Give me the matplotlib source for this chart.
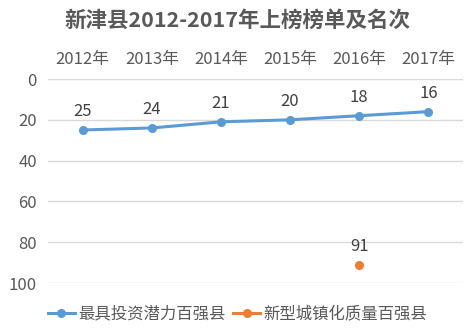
import matplotlib
matplotlib.use("Agg")
import matplotlib.pyplot as plt
import numpy as np

plt.rcParams['font.family'] = ['Noto Sans CJK SC', 'DejaVu Sans']

years = ["2012年", "2013年", "2014年", "2015年", "2016年", "2017年"]
invest_rank = [25, 24, 21, 20, 18, 16]
urban_rank = [None, None, None, None, 91, None]
yticks = [0, 20, 40, 60, 80, 100]

BLUE = "#5b9bd5"
ORANGE = "#ed7d31"
GRAY = "#595959"

fig = plt.figure(figsize=(4.75, 3.36), dpi=100)
ax = fig.add_axes([48 / 475, 1 - 283 / 336, 415 / 475, 204 / 336])

x = np.arange(len(years))
ax.plot(x, invest_rank, color=BLUE, lw=2.2, marker="o", ms=5.5,
        label="最具投资潜力百强县", zorder=3)
ux = [i for i, v in enumerate(urban_rank) if v is not None]
uy = [v for v in urban_rank if v is not None]
ax.plot(ux, uy, color=ORANGE, lw=2.2, marker="o", ms=5.5,
        label="新型城镇化质量百强县", zorder=3)

for xi, v in zip(x, invest_rank):
    ax.annotate(str(v), (xi, v), xytext=(0, 7), textcoords="offset points",
                ha="center", va="bottom", fontsize=12, color="#404040")
for xi, v in zip(ux, uy):
    ax.annotate(str(v), (xi, v), xytext=(0, 7), textcoords="offset points",
                ha="center", va="bottom", fontsize=12, color="#404040")

ax.set_xlim(-0.5, len(years) - 0.5)
ax.set_ylim(100, 0)
ax.set_yticks(yticks)
ax.set_xticks(x)
ax.set_xticklabels(years)
ax.xaxis.tick_top()
ax.tick_params(axis="x", length=0, pad=8, labelsize=12, labelcolor=GRAY)
ax.tick_params(axis="y", length=0, pad=8, labelsize=12, labelcolor=GRAY)
ax.grid(axis="y", color="#d9d9d9", lw=1)
ax.set_axisbelow(True)
for s in ax.spines.values():
    s.set_visible(False)

fig.text(0.5, 1 - 20 / 336, "新津县2012-2017年上榜榜单及名次", ha="center", va="center",
         fontsize=15.5, fontweight="bold", color=GRAY)

fig.legend(loc="center", bbox_to_anchor=(0.5, 1 - 314 / 336), ncol=2, frameon=False,
           fontsize=11.8, labelcolor=GRAY, handlelength=1.7, handletextpad=0.2,
           columnspacing=0.4)

fig.savefig("out.png", dpi=100)
